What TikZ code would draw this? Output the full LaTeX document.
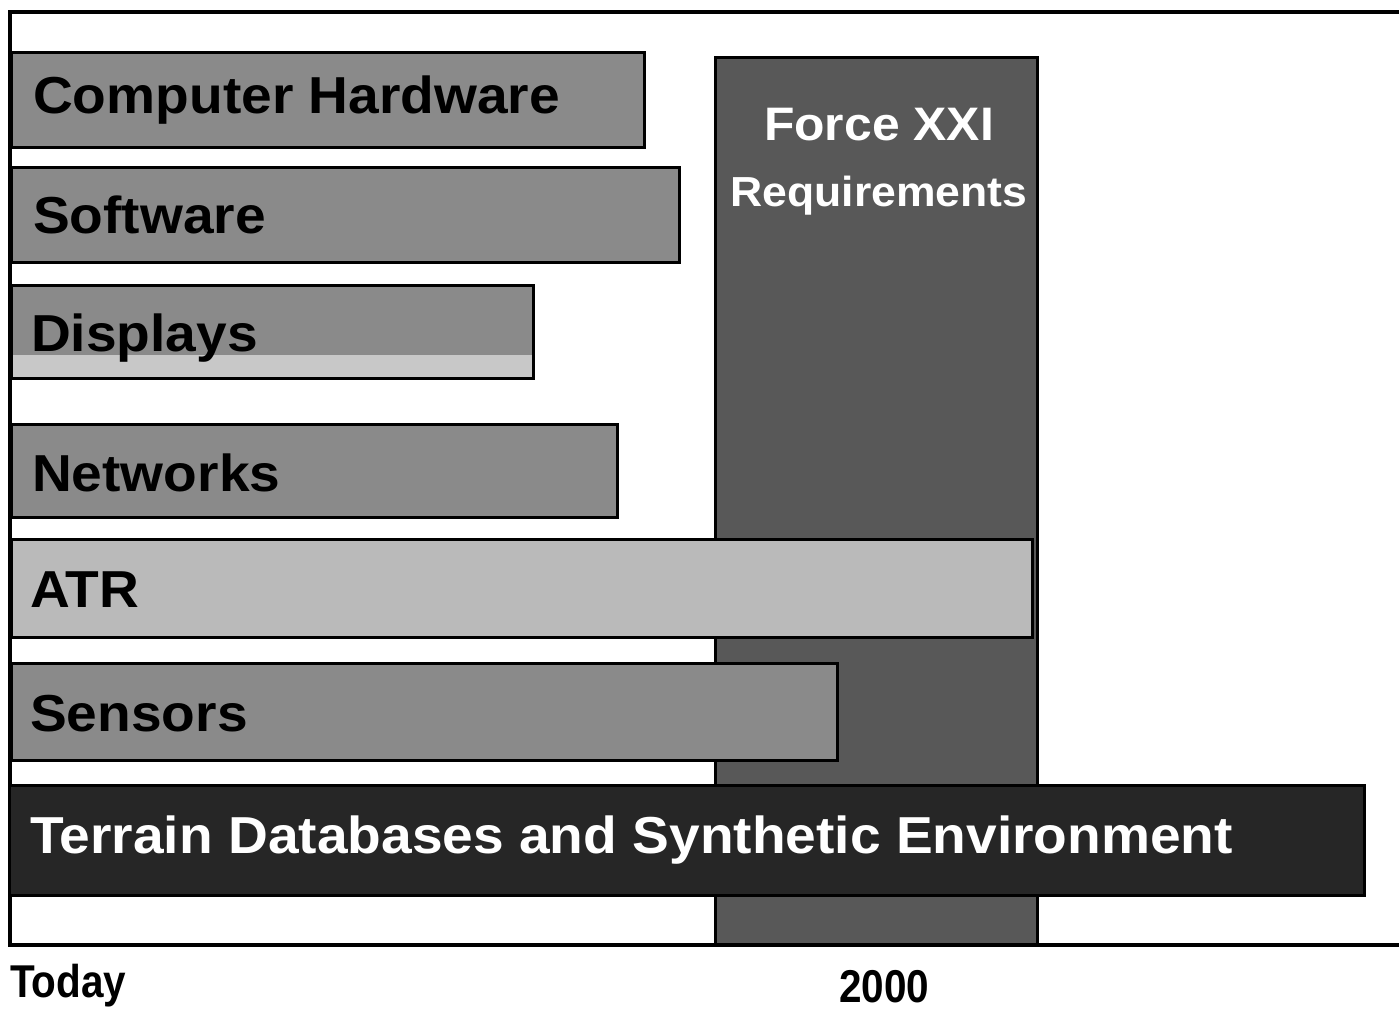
\documentclass[tikz,border=0pt]{standalone}
\usepackage{fontspec}
\setmainfont{Liberation Sans}[FakeStretch=1.06]
\newfontfamily\condfont{Liberation Sans}[FakeStretch=0.88]
\definecolor{midgray}{RGB}{138,138,138}
\definecolor{colgray}{RGB}{88,88,88}
\definecolor{atrgray}{RGB}{186,186,186}
\definecolor{stripgray}{RGB}{200,200,200}
\definecolor{terrgray}{RGB}{38,38,38}
\begin{document}
\begin{tikzpicture}[x=1pt,y=-1pt,
  frameline/.style={line width=3.5pt},
  barbox/.style={draw=black,line width=3pt,fill=midgray},
  barlabel/.style={anchor=base west,inner sep=0pt,font=\fontsize{52}{52}\selectfont\bfseries,text=black},
  yearlabel/.style={anchor=base west,inner sep=0pt,font=\fontsize{46}{46}\selectfont\condfont\bfseries,text=black}]
\useasboundingbox (0,0) rectangle (1399,1011);
\fill[white] (0,0) rectangle (1399,1011);
% Force XXI column (behind bars)
\draw[draw=black,line width=3pt,fill=colgray] (715,58) rectangle (1037,945);
\node[anchor=base,inner sep=0pt,font=\fontsize{47}{47}\selectfont\bfseries,text=white] (force) at (879,141) {Force XXI};
\node[anchor=base,inner sep=0pt,font=\fontsize{42}{42}\selectfont\bfseries,text=white] (req) at (879,206) {Requirements};
% frame
\draw[frameline] (1399,12) -- (10,12) -- (10,945) -- (1399,945);
% bars
\draw[barbox] (11,53) rectangle (644,148);
\node[barlabel] (ch) at (33,114) {Computer Hardware};
\draw[barbox] (11,168) rectangle (679,262);
\node[barlabel] (sw) at (33,233) {Software};
\draw[barbox] (11,285) rectangle (533,378);
\fill[stripgray] (12.5,355) rectangle (531.5,376.5);
\node[barlabel] (di) at (31,351) {Displays};
\draw[barbox] (11,424) rectangle (617,517);
\node[barlabel] (nw) at (32,491) {Networks};
\draw[barbox,fill=atrgray] (11,539) rectangle (1032,637);
\node[barlabel] (atr) at (30,607) {ATR};
\draw[barbox] (11,663) rectangle (837,760);
\node[barlabel] (se) at (30,731) {Sensors};
\draw[barbox,fill=terrgray] (9,785) rectangle (1364,895);
\node[barlabel,text=white] (te) at (30,853) {Terrain Databases and Synthetic Environment};
% time axis labels
\node[yearlabel] (today) at (10,997) {Today};
\node[yearlabel] (y2000) at (839,1002) {2000};
\end{tikzpicture}
\end{document}
